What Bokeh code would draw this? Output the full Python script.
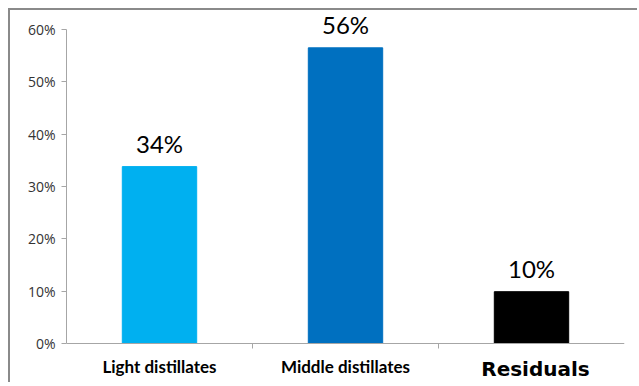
from bokeh.plotting import figure
from bokeh.models import ColumnDataSource, FixedTicker, NumeralTickFormatter, Label
from bokeh.embed import file_html
from bokeh.resources import INLINE

categories = ["Light distillates", "Middle distillates", "Residuals"]
shares = [0.338, 0.565, 0.099]
share_labels = ["34%", "56%", "10%"]
y_ticks = [0.0, 0.1, 0.2, 0.3, 0.4, 0.5, 0.6]

bar_colors = ["#00B0F0", "#0070C0", "#000000"]
xpos = [i + 0.5 for i in range(len(categories))]

src = ColumnDataSource(dict(x=xpos, top=shares, color=bar_colors))

p = figure(width=629, height=374, x_range=(0, 3), y_range=(-0.0707, 0.6325),
           output_backend="svg", toolbar_location=None,
           min_border_left=56, min_border_right=15, min_border_top=2, min_border_bottom=4)
p.margin = (8, 0, 0, 8)
p.styles = {"border-left": "2px solid #8a8a8a", "border-top": "2px solid #8a8a8a"}
p.outline_line_color = None
p.background_fill_color = "white"
p.border_fill_color = "white"
p.xgrid.visible = False
p.ygrid.visible = False

p.vbar(x="x", top="top", width=0.4, color="color", source=src)

# y axis
p.yaxis.ticker = FixedTicker(ticks=y_ticks)
p.yaxis.bounds = (0, 0.6)
p.yaxis.formatter = NumeralTickFormatter(format="0%")
p.yaxis.axis_line_color = "#a6a6a6"
p.yaxis.major_tick_line_color = "#a6a6a6"
p.yaxis.major_tick_out = 5
p.yaxis.major_tick_in = 0
p.yaxis.minor_tick_line_color = None
p.yaxis.major_label_text_font = "Open Sans"
p.yaxis.major_label_text_font_size = "14px"
p.yaxis.major_label_text_color = "#333333"
p.yaxis.major_label_standoff = 6

# x axis at y = 0
p.xaxis.fixed_location = 0
p.xaxis.ticker = FixedTicker(ticks=[1, 2])
p.xaxis.major_label_overrides = {1: "", 2: ""}
p.xaxis.axis_line_color = "#a6a6a6"
p.xaxis.major_tick_line_color = "#a6a6a6"
p.xaxis.major_tick_out = 5
p.xaxis.major_tick_in = 0
p.xaxis.minor_tick_line_color = None

for i, cat in enumerate(categories):
    big = cat == "Residuals"
    p.add_layout(Label(x=xpos[i], y=0, y_offset=-25 if big else -23,
                       x_offset=4 if big else 0, text=cat,
                       text_align="center", text_baseline="middle",
                       text_font="DejaVu Sans" if big else "Lato",
                       text_font_style="bold",
                       text_font_size="20px" if big else "17px",
                       text_color="black"))
    p.add_layout(Label(x=xpos[i], y=shares[i], y_offset=9, text=share_labels[i],
                       text_align="center", text_baseline="bottom",
                       text_font="Lato", text_font_size="24px",
                       text_color="black"))

open("out.html", "w").write(file_html(p, INLINE))
